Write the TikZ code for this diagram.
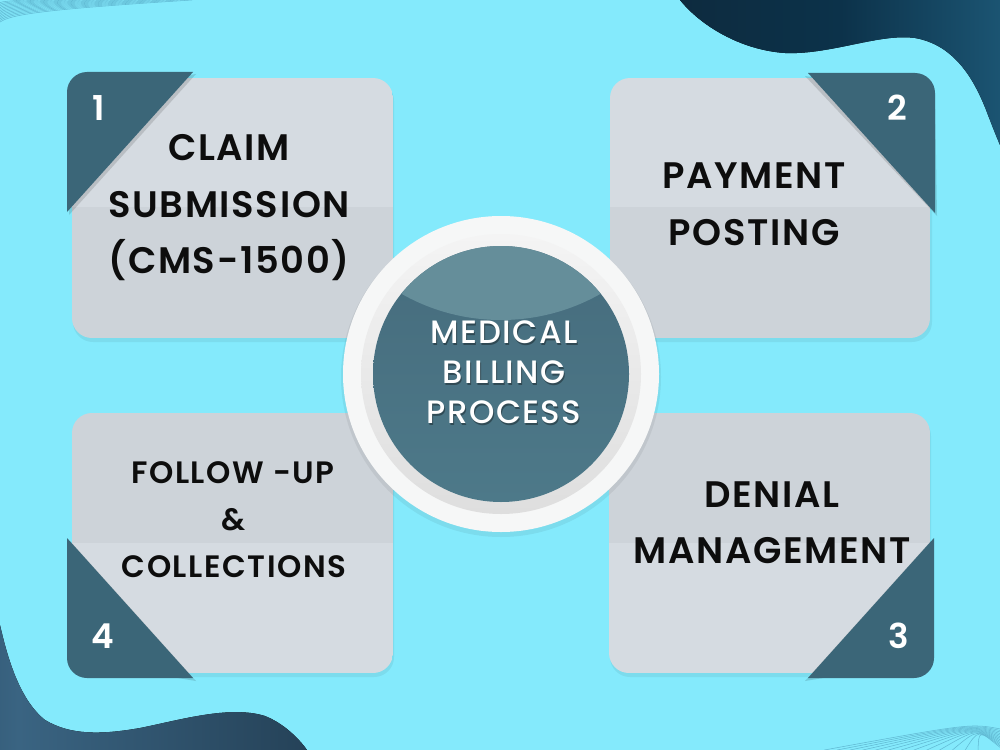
\documentclass[tikz,border=0pt]{standalone}
\usepackage{fontspec}
\setmainfont{Poppins}
\newfontfamily\cardfont{Poppins SemiBold}[LetterSpace=4.5]
\newfontfamily\smallfont{Poppins SemiBold}[LetterSpace=5]
\newfontfamily\hubfont{Poppins Medium}[LetterSpace=4.5]

\definecolor{bgcyan}{RGB}{132,234,252}
\definecolor{cardhi}{RGB}{213,219,225}
\definecolor{cardlo}{RGB}{205,211,217}
\definecolor{tabblue}{RGB}{59,102,120}
\definecolor{ringw}{RGB}{246,247,247}
\definecolor{ringtop}{RGB}{244,244,244}
\definecolor{ringbot}{RGB}{222,222,222}
\definecolor{hubtop}{RGB}{70,108,125}
\definecolor{hubbot}{RGB}{77,121,137}
\definecolor{hubhi}{RGB}{101,142,154}
\definecolor{fanline}{RGB}{96,184,210}
\definecolor{navyA}{RGB}{14,36,52}
\definecolor{navyB}{RGB}{12,50,74}
\definecolor{navyC}{RGB}{27,84,114}
\definecolor{navyD}{RGB}{12,42,60}
\definecolor{deepA}{RGB}{33,66,90}
\definecolor{deepB}{RGB}{58,100,130}
\definecolor{deepC}{RGB}{26,48,66}

\pgfdeclarehorizontalshading{topwave}{100bp}{color(0bp)=(navyA); color(50bp)=(navyB); color(75bp)=(navyC); color(100bp)=(navyD)}
\pgfdeclarehorizontalshading{bottomwave}{100bp}{color(0bp)=(deepA); color(28bp)=(deepB); color(100bp)=(deepC)}

\tikzset{
  cardshape/.style={rounded corners=0.4cm},
  tabfill/.style={fill=tabblue},
  tabshadow/.style={fill=black, opacity=0.13},
  cardtext/.style={font=\cardfont\fontsize{21}{24}\selectfont, text=black!95, anchor=base, inner sep=0pt},
  smalltext/.style={font=\smallfont\fontsize{17.6}{20}\selectfont, text=black!95, anchor=base, inner sep=0pt},
  numtext/.style={font=\cardfont\fontsize{19.5}{24}\selectfont, text=white, anchor=base, inner sep=0pt},
  hubtext/.style={font=\hubfont\fontsize{18.4}{22}\selectfont, text=white, anchor=base, inner sep=0pt},
  hubshadow/.style={font=\hubfont\fontsize{18.4}{22}\selectfont, text=black, opacity=0.35, anchor=base, inner sep=0pt},
  fan/.style={draw=fanline, line width=0.3pt}
}

\begin{document}
\begin{tikzpicture}[x=0.02cm,y=-0.02cm]
\useasboundingbox (0,0) rectangle (1000,750);
\fill[bgcyan] (0,0) rectangle (1000,750);

% decorative waves
\fill[shading=topwave] (680,0) .. controls (700,25) and (740,50) .. (785,53)
  .. controls (830,55) and (880,33) .. (915,38)
  .. controls (955,45) and (975,80) .. (988,115)
  .. controls (993,128) and (997,138) .. (1000,145) -- (1000,0) -- cycle;
\fill[shading=bottomwave] (0,625) .. controls (8,660) and (20,700) .. (45,720)
  .. controls (70,735) and (100,735) .. (140,728)
  .. controls (180,720) and (230,705) .. (265,716)
  .. controls (285,724) and (300,740) .. (307,750) -- (0,750) -- cycle;

% fine line fans in two corners
\foreach \t in {0.12,0.19,...,1.0}{
  \draw[fan] (0,23*\t) .. controls (12*\t,14*\t) and (60*\t,9*\t) .. (200*\t,0);
  \draw[fan] (1000,750-22*\t) .. controls (980-10*\t,731-8*\t) .. (1000-183*\t,750);
}

% card shadows
\foreach \x/\y in {72/78,610/78,609/413,72/413}{
  \fill[black, opacity=0.06, cardshape] (\x+1,\y+3) rectangle ++(321,261);
}

% card 1
\begin{scope}
  \clip[cardshape] (72,78) rectangle (393,338);
  \fill[cardhi] (72,78) rectangle (393,207);
  \fill[cardlo] (72,207) rectangle (393,338);
\end{scope}
% card 2
\begin{scope}
  \clip[cardshape] (610,78) rectangle (930,338);
  \fill[cardhi] (610,78) rectangle (930,207);
  \fill[cardlo] (610,207) rectangle (930,338);
\end{scope}
% card 3
\begin{scope}
  \clip[cardshape] (609,413) rectangle (930,673);
  \fill[cardlo] (609,413) rectangle (930,543);
  \fill[cardhi] (609,543) rectangle (930,673);
\end{scope}
% card 4
\begin{scope}
  \clip[cardshape] (72,413) rectangle (393,673);
  \fill[cardlo] (72,413) rectangle (393,543);
  \fill[cardhi] (72,543) rectangle (393,673);
\end{scope}

% corner tabs with soft shadows
\fill[tabshadow] (69,215) -- (69,94) -- (196,74) -- cycle;
\fill[tabfill] (67,212) -- (67,92) .. controls (67,81) and (76,72) .. (87,72) -- (193,72) -- cycle;

\fill[tabshadow] (805,76) -- (935,95) -- (937,216) -- cycle;
\fill[tabfill] (808,73) -- (915,73) .. controls (926,73) and (935,82) .. (935,93) -- (935,213) -- cycle;

\fill[tabshadow] (931,541) -- (934,660) -- (805,681) -- cycle;
\fill[tabfill] (934,538) -- (934,658) .. controls (934,669) and (925,678) .. (914,678) -- (808,678) -- cycle;

\fill[tabshadow] (196,681) -- (69,660) -- (70,541) -- cycle;
\fill[tabfill] (193,678) -- (87,678) .. controls (76,678) and (67,669) .. (67,658) -- (67,538) -- cycle;

% step numbers
\node[numtext] (n1) at (99,120) {1};
\node[numtext] (n2) at (897,120) {2};
\node[numtext] (n3) at (899,648) {3};
\node[numtext] (n4) at (103,648) {4};

% card captions
\node[cardtext] (c1a) at (229,160) {CLAIM};
\node[cardtext] (c1b) at (229,217) {SUBMISSION};
\node[cardtext] (c1c) at (229,273) {(CMS-1500)};

\node[cardtext] (c2a) at (754,188) {PAYMENT};
\node[cardtext] (c2b) at (754,245) {POSTING};

\node[cardtext] (c3a) at (772,507) {DENIAL};
\node[cardtext] (c3b) at (772,563) {MANAGEMENT};

\node[smalltext] (c4a) at (233,483) {FOLLOW -UP};
\node[smalltext] (c4b) at (234,530) {\&};
\node[smalltext] (c4c) at (234,577) {COLLECTIONS};

% central hub
\fill[black, opacity=0.06] (501,377) circle[radius=160];
\fill[ringw] (501,374) circle[radius=158];
\shade[top color=ringtop, bottom color=ringbot] (501,374) circle[radius=140];
\shade[top color=hubtop, bottom color=hubbot] (501,374) circle[radius=128];
\begin{scope}
  \clip (501,374) circle[radius=128];
  \fill[hubhi] (501,118) circle[radius=202];
\end{scope}

\node[hubshadow] at (505,345) {MEDICAL};
\node[hubshadow] at (505,385) {BILLING};
\node[hubshadow] at (505,425) {PROCESS};
\node[hubtext] (h1) at (504,343) {MEDICAL};
\node[hubtext] (h2) at (504,383) {BILLING};
\node[hubtext] (h3) at (504,423) {PROCESS};
\end{tikzpicture}
\end{document}
